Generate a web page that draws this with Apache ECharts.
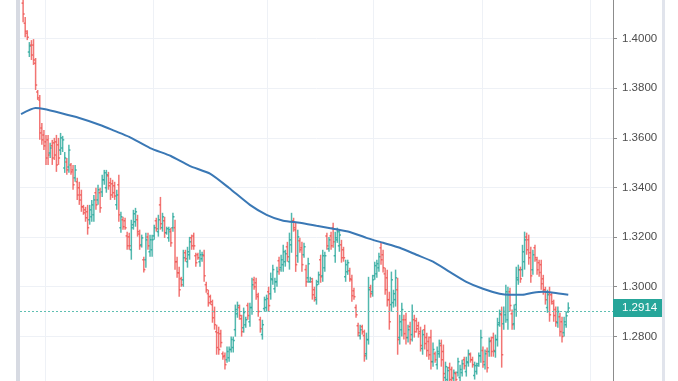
<!DOCTYPE html>
<html><head><meta charset="utf-8">
<script src="https://cdn.jsdelivr.net/npm/echarts@6.0.0/dist/echarts.min.js"></script>
<style>html,body{margin:0;padding:0;background:#fff;overflow:hidden}
#wrap{position:relative;width:678px;height:381px;overflow:hidden}
#c{position:absolute;left:0;top:-11px;width:678px;height:397px}</style>
</head><body><div id="wrap"><div id="c"></div></div>
<script>
const open = [
1.4143,1.4062,1.4022,1.3946,1.3974,1.3974,1.3901,1.3785,1.3753,1.3640,
1.3612,1.3584,1.3592,1.3539,1.3568,1.3580,1.3584,1.3572,1.3551,1.3559,
1.3479,1.3503,1.3483,1.3491,1.3471,1.3439,1.3423,1.3399,1.3370,1.3322,
1.3310,1.3302,1.3270,1.3282,1.3290,1.3379,1.3350,1.3379,1.3382,1.3431,
1.3399,1.3447,1.3419,1.3415,1.3407,1.3330,1.3411,1.3238,1.3270,1.3266,
1.3205,1.3201,1.3149,1.3250,1.3262,1.3270,1.3213,1.3169,1.3109,1.3109,
1.3201,1.3141,1.3149,1.3205,1.3266,1.3222,1.3330,1.3238,1.3266,1.3218,
1.3197,1.3222,1.3238,1.3238,1.3101,1.3056,1.3032,1.3028,1.3137,1.3101,
1.3129,1.3197,1.3205,1.3125,1.3129,1.3101,1.3113,1.3125,1.3008,1.2972,
1.2960,1.2928,1.2900,1.2819,1.2815,1.2811,1.2730,1.2722,1.2706,1.2714,
1.2747,1.2755,1.2827,1.2891,1.2916,1.2871,1.2835,1.2847,1.2924,1.2859,
1.2916,1.3028,1.3016,1.2960,1.2867,1.2807,1.2912,1.2916,1.2980,1.2972,
1.3028,1.2992,1.3020,1.3105,1.3077,1.3089,1.3101,1.3161,1.3101,1.3169,
1.3266,1.3230,1.3125,1.3185,1.3157,1.3129,1.3069,1.3036,1.3020,1.3020,
1.2988,1.2948,1.3020,1.3109,1.3044,1.3077,1.3205,1.3153,1.3205,1.3238,
1.3125,1.3189,1.3165,1.3169,1.3149,1.3040,1.3060,1.3064,1.3028,1.2984,
1.2916,1.2843,1.2803,1.2839,1.2803,1.2730,1.2787,1.2996,1.2980,1.3044,
1.3052,1.3077,1.3157,1.3129,1.3052,1.3036,1.2948,1.2928,1.2936,1.2948,
1.2988,1.2795,1.2827,1.2867,1.2867,1.2795,1.2839,1.2807,1.2867,1.2863,
1.2843,1.2819,1.2751,1.2827,1.2795,1.2779,1.2795,1.2698,1.2730,1.2686,
1.2730,1.2763,1.2739,1.2634,1.2626,1.2674,1.2666,1.2630,1.2650,1.2654,
1.2634,1.2654,1.2706,1.2658,1.2694,1.2726,1.2706,1.2642,1.2658,1.2690,
1.2722,1.2743,1.2686,1.2739,1.2739,1.2783,1.2795,1.2739,1.2787,1.2855,
1.2887,1.2851,1.2887,1.2867,1.2980,1.2891,1.2851,1.2928,1.3028,1.3069,
1.3069,1.3101,1.3201,1.3189,1.3137,1.3069,1.3157,1.3109,1.3097,1.3089,
1.3032,1.2988,1.2916,1.2976,1.2968,1.2932,1.2908,1.2855,1.2879,1.2859,
1.2815,1.2847,1.2899];
const high = [
1.4175,1.4087,1.4034,1.3986,1.3994,1.3998,1.3922,1.3793,1.3773,1.3660,
1.3632,1.3612,1.3612,1.3580,1.3592,1.3600,1.3612,1.3600,1.3620,1.3608,
1.3543,1.3519,1.3572,1.3499,1.3491,1.3491,1.3439,1.3423,1.3391,1.3330,
1.3322,1.3330,1.3330,1.3350,1.3370,1.3399,1.3411,1.3399,1.3451,1.3471,
1.3471,1.3463,1.3439,1.3431,1.3423,1.3391,1.3451,1.3302,1.3282,1.3278,
1.3222,1.3218,1.3270,1.3310,1.3318,1.3290,1.3230,1.3210,1.3121,1.3218,
1.3218,1.3210,1.3210,1.3250,1.3278,1.3290,1.3362,1.3298,1.3282,1.3242,
1.3242,1.3238,1.3298,1.3270,1.3121,1.3081,1.3040,1.3149,1.3149,1.3161,
1.3201,1.3210,1.3218,1.3137,1.3137,1.3149,1.3141,1.3149,1.3020,1.2988,
1.2968,1.2948,1.2920,1.2847,1.2839,1.2827,1.2739,1.2735,1.2759,1.2759,
1.2799,1.2799,1.2928,1.2940,1.2928,1.2887,1.2916,1.2879,1.2936,1.2936,
1.3036,1.3040,1.3036,1.2976,1.2879,1.2867,1.2960,1.2968,1.3000,1.3057,
1.3089,1.3036,1.3081,1.3121,1.3129,1.3169,1.3149,1.3181,1.3218,1.3298,
1.3278,1.3258,1.3230,1.3197,1.3181,1.3177,1.3089,1.3117,1.3040,1.3036,
1.3000,1.3028,1.3061,1.3129,1.3149,1.3141,1.3218,1.3201,1.3222,1.3258,
1.3222,1.3238,1.3230,1.3189,1.3161,1.3109,1.3109,1.3077,1.3048,1.2996,
1.2928,1.2855,1.2847,1.2847,1.2827,1.2815,1.3040,1.3008,1.3048,1.3101,
1.3109,1.3137,1.3177,1.3149,1.3077,1.3069,1.2980,1.3061,1.2988,1.3069,
1.3036,1.2887,1.2936,1.2887,1.2895,1.2847,1.2859,1.2928,1.2887,1.2875,
1.2859,1.2839,1.2827,1.2847,1.2815,1.2799,1.2827,1.2775,1.2739,1.2759,
1.2787,1.2787,1.2767,1.2698,1.2678,1.2694,1.2678,1.2666,1.2658,1.2714,
1.2686,1.2706,1.2718,1.2718,1.2747,1.2735,1.2718,1.2698,1.2694,1.2735,
1.2827,1.2759,1.2747,1.2755,1.2795,1.2799,1.2815,1.2807,1.2875,1.2908,
1.2920,1.2920,1.3008,1.3000,1.2996,1.2908,1.2928,1.3081,1.3089,1.3081,
1.3169,1.3222,1.3218,1.3210,1.3161,1.3149,1.3169,1.3121,1.3109,1.3109,
1.3048,1.3000,1.2988,1.3000,1.2976,1.2948,1.2920,1.2920,1.2895,1.2879,
1.2879,1.2899,1.2937];
const low = [
1.4066,1.4006,1.3994,1.3926,1.3914,1.3894,1.3793,1.3753,1.3592,1.3572,
1.3551,1.3491,1.3491,1.3519,1.3491,1.3511,1.3463,1.3491,1.3531,1.3543,
1.3459,1.3451,1.3459,1.3451,1.3391,1.3423,1.3350,1.3330,1.3302,1.3290,
1.3262,1.3210,1.3250,1.3262,1.3262,1.3310,1.3330,1.3298,1.3362,1.3411,
1.3379,1.3391,1.3350,1.3358,1.3350,1.3310,1.3262,1.3218,1.3230,1.3230,
1.3149,1.3149,1.3109,1.3230,1.3242,1.3202,1.3149,1.3158,1.3057,1.3077,
1.3149,1.3121,1.3121,1.3189,1.3222,1.3202,1.3230,1.3222,1.3197,1.3210,
1.3181,1.3161,1.3222,1.3069,1.3036,1.2960,1.3000,1.3000,1.3101,1.3077,
1.3109,1.3149,1.3149,1.3081,1.3109,1.3081,1.3101,1.3020,1.2976,1.2920,
1.2928,1.2855,1.2827,1.2726,1.2726,1.2755,1.2706,1.2666,1.2694,1.2698,
1.2735,1.2735,1.2799,1.2875,1.2867,1.2799,1.2815,1.2835,1.2867,1.2839,
1.2887,1.2988,1.2948,1.2879,1.2815,1.2787,1.2900,1.2900,1.2900,1.2948,
1.3008,1.2976,1.3000,1.3048,1.3060,1.3060,1.3081,1.3101,1.3069,1.3137,
1.3222,1.3060,1.3097,1.3137,1.3060,1.3117,1.3000,1.3016,1.3016,1.2948,
1.2940,1.2928,1.3008,1.3016,1.3020,1.3060,1.3149,1.3141,1.3149,1.3157,
1.3097,1.3177,1.3141,1.3097,1.3101,1.3020,1.3048,1.3020,1.2940,1.2948,
1.2875,1.2799,1.2787,1.2807,1.2698,1.2706,1.2767,1.2956,1.2960,1.3028,
1.3036,1.3060,1.3089,1.3057,1.2968,1.2920,1.2827,1.2900,1.2916,1.2920,
1.2726,1.2767,1.2799,1.2787,1.2767,1.2775,1.2767,1.2779,1.2795,1.2815,
1.2795,1.2739,1.2726,1.2747,1.2718,1.2706,1.2666,1.2678,1.2694,1.2666,
1.2714,1.2678,1.2618,1.2618,1.2610,1.2606,1.2614,1.2618,1.2610,1.2638,
1.2618,1.2638,1.2666,1.2638,1.2678,1.2694,1.2674,1.2626,1.2646,1.2678,
1.2694,1.2674,1.2666,1.2654,1.2718,1.2718,1.2718,1.2714,1.2759,1.2839,
1.2674,1.2827,1.2855,1.2827,1.2900,1.2827,1.2827,1.2879,1.3008,1.3016,
1.3040,1.3069,1.3129,1.3089,1.3016,1.3048,1.3101,1.3048,1.3040,1.2988,
1.2968,1.2928,1.2895,1.2859,1.2928,1.2859,1.2839,1.2835,1.2799,1.2775,
1.2799,1.2835,1.2895];
const close = [
1.4099,1.4030,1.4006,1.3970,1.3934,1.3914,1.3813,1.3761,1.3620,1.3592,
1.3568,1.3519,1.3531,1.3559,1.3519,1.3531,1.3491,1.3519,1.3600,1.3592,
1.3519,1.3471,1.3551,1.3463,1.3411,1.3471,1.3370,1.3350,1.3322,1.3298,
1.3278,1.3238,1.3310,1.3330,1.3350,1.3330,1.3391,1.3318,1.3431,1.3459,
1.3451,1.3407,1.3370,1.3379,1.3366,1.3370,1.3290,1.3282,1.3242,1.3238,
1.3165,1.3165,1.3238,1.3294,1.3302,1.3222,1.3165,1.3197,1.3069,1.3189,
1.3165,1.3189,1.3189,1.3238,1.3234,1.3270,1.3254,1.3282,1.3218,1.3234,
1.3230,1.3177,1.3282,1.3101,1.3056,1.2988,1.3008,1.3117,1.3113,1.3141,
1.3181,1.3165,1.3165,1.3097,1.3117,1.3129,1.3129,1.3044,1.2988,1.2936,
1.2940,1.2875,1.2847,1.2755,1.2747,1.2775,1.2718,1.2686,1.2739,1.2747,
1.2787,1.2783,1.2908,1.2924,1.2884,1.2819,1.2896,1.2867,1.2884,1.2916,
1.3008,1.3000,1.2968,1.2900,1.2831,1.2847,1.2948,1.2952,1.2924,1.3032,
1.3069,1.3020,1.3061,1.3069,1.3109,1.3141,1.3133,1.3121,1.3189,1.3262,
1.3238,1.3089,1.3201,1.3149,1.3089,1.3161,1.3020,1.3093,1.3032,1.2968,
1.2956,1.3008,1.3048,1.3040,1.3125,1.3125,1.3165,1.3189,1.3165,1.3181,
1.3197,1.3222,1.3209,1.3117,1.3117,1.3089,1.3097,1.3032,1.2964,1.2960,
1.2887,1.2815,1.2827,1.2819,1.2722,1.2787,1.2988,1.2972,1.3028,1.3085,
1.3093,1.3121,1.3109,1.3077,1.2988,1.2948,1.2859,1.3028,1.2972,1.3036,
1.2787,1.2859,1.2908,1.2811,1.2795,1.2827,1.2787,1.2900,1.2819,1.2831,
1.2811,1.2763,1.2807,1.2771,1.2743,1.2726,1.2698,1.2747,1.2706,1.2739,
1.2771,1.2706,1.2650,1.2678,1.2662,1.2626,1.2634,1.2654,1.2626,1.2698,
1.2666,1.2690,1.2682,1.2698,1.2730,1.2706,1.2686,1.2682,1.2682,1.2722,
1.2795,1.2698,1.2730,1.2674,1.2779,1.2739,1.2743,1.2787,1.2847,1.2891,
1.2726,1.2900,1.2980,1.2968,1.2924,1.2847,1.2908,1.3036,1.3069,1.3032,
1.3141,1.3189,1.3149,1.3117,1.3044,1.3129,1.3117,1.3069,1.3057,1.3012,
1.2988,1.2948,1.2968,1.2887,1.2940,1.2884,1.2859,1.2900,1.2819,1.2799,
1.2859,1.2883,1.2914];

// 200-day moving average, read at selected days
const maDay = [0,7,11,19,28,38,45,52,62,72,81,91,100,110,118,126,134,142,150,158,166,174,182,190,198,206,214,222,230,235,241,246,251,256,263];
const maValue = [1.3696,1.3720,1.3716,1.3700,1.3680,1.3652,1.3628,1.3604,1.3559,1.3527,1.3487,1.3455,1.3398,1.3330,1.3290,1.3266,1.3258,1.3246,1.3234,1.3221,1.3197,1.3177,1.3157,1.3129,1.3101,1.3060,1.3020,1.2992,1.2972,1.2968,1.2968,1.2976,1.2980,1.2976,1.2968];

// days where vertical (period) grid lines fall
const gridDays = [12, 64, 119, 170, 222, 274];
const dayCount = 285;
const yMin = 1.26, yMax = 1.42, yStep = 0.02;

const days = Array.from({length: dayCount}, (_, i) => 'D' + i);
const ohlc = open.map((o, i) => [i + 1, o, high[i], low[i], close[i]]);
const maData = days.map(() => null);
maDay.forEach((d, k) => { maData[d] = maValue[k]; });
const lastClose = close[close.length - 1];

const UP = '#26a69a', DOWN = '#ef5350';
const FONT = "'Liberation Sans', Arial, sans-serif";

const chart = echarts.init(document.getElementById('c'), null, {renderer: 'canvas'});
chart.setOption({
  animation: false,
  backgroundColor: '#ffffff',
  grid: {left: 20, right: 65, top: 0, bottom: 0, containLabel: false},
  xAxis: {
    type: 'category', data: days, boundaryGap: true,
    axisLine: {show: false}, axisTick: {show: false}, axisLabel: {show: false},
    splitLine: {show: true, interval: (idx) => gridDays.includes(idx),
      lineStyle: {color: '#eef1f6', width: 1}}
  },
  yAxis: {
    type: 'value', position: 'right', min: yMin, max: yMax, interval: yStep,
    axisLine: {show: true, lineStyle: {color: '#8c8c8c', width: 1}},
    axisTick: {show: true, length: 4, lineStyle: {color: '#8c8c8c'}},
    axisLabel: {margin: 9, color: '#4d4d4d', fontSize: 11.5, fontFamily: FONT,
      formatter: (v) => (v < yMin + 0.005 || v > yMax - 0.005) ? '' : v.toFixed(4)},
    splitLine: {show: true, lineStyle: {color: '#eef1f6', width: 1}}
  },
  series: [
    {
      type: 'custom', name: 'price', clip: true,
      encode: {x: 0, y: [1, 2, 3, 4]},
      data: ohlc,
      renderItem: (params, api) => {
        const d = api.value(0);
        const o = api.value(1), h = api.value(2), l = api.value(3), c = api.value(4);
        const x = api.coord([d, h])[0];
        const yh = api.coord([d, h])[1], yl = api.coord([d, l])[1];
        const yo = api.coord([d, o])[1], yc = api.coord([d, c])[1];
        const col = c >= o ? UP : DOWN;
        const st = {stroke: col, lineWidth: 1.5, opacity: 0.8};
        return {type: 'group', children: [
          {type: 'line', shape: {x1: x, y1: yh, x2: x, y2: yl}, style: st},
          {type: 'line', shape: {x1: x - 1.6, y1: yo, x2: x, y2: yo}, style: st},
          {type: 'line', shape: {x1: x, y1: yc, x2: x + 1.6, y2: yc}, style: st}
        ]};
      },
      markLine: {
        silent: true, symbol: 'none', label: {show: false},
        lineStyle: {color: '#5fbfb2', type: [2, 2], width: 1},
        data: [{yAxis: lastClose}]
      },
      z: 2
    },
    {
      type: 'line', name: 'MA', data: maData, connectNulls: true, showSymbol: false,
      symbol: 'none', smooth: 0.2,
      lineStyle: {color: '#3a78b5', width: 2}, z: 3
    }
  ]
});

const yPix = chart.convertToPixel({yAxisIndex: 0}, lastClose);
chart.setOption({
  graphic: [
    {type: 'rect', shape: {x: 16, y: 0, width: 4, height: 420}, style: {fill: '#d7dae2'}, silent: true},
    {type: 'rect', shape: {x: 662, y: 0, width: 3, height: 420}, style: {fill: '#e1e4ec'}, silent: true},
    {type: 'rect', shape: {x: 613, y: yPix - 9, width: 49, height: 18}, style: {fill: UP}, silent: true, z: 10},
    {type: 'text', x: 622, y: yPix, style: {text: lastClose.toFixed(4), fill: '#ffffff',
      font: '11.5px ' + FONT, verticalAlign: 'middle'}, silent: true, z: 11}
  ]
});
</script>
</body></html>
